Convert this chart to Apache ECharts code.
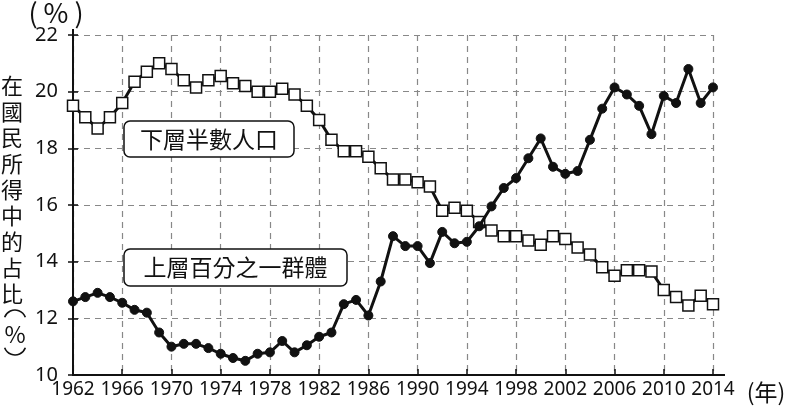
<!DOCTYPE html>
<html><head><meta charset="utf-8">
<script src="https://cdn.jsdelivr.net/npm/echarts@6/dist/echarts.min.js"></script>
<style>html,body{margin:0;padding:0;background:#fff}#c{width:790px;height:409px}</style>
</head><body><div id="c"></div>
<script>
const years = [];
for (let y = 1962; y <= 2014; y++) years.push(String(y));
const bottomHalf = [19.5,19.1,18.7,19.1,19.6,20.35,20.7,21.0,20.8,20.4,20.15,20.4,20.55,20.3,20.2,20.0,20.0,20.1,19.9,19.5,19.0,18.3,17.9,17.9,17.7,17.3,16.9,16.9,16.8,16.65,15.8,15.9,15.8,15.4,15.1,14.9,14.9,14.75,14.6,14.9,14.8,14.5,14.25,13.8,13.5,13.7,13.7,13.65,13.0,12.75,12.45,12.8,12.5];
const top1 = [12.6,12.75,12.9,12.75,12.55,12.3,12.2,11.5,11.0,11.1,11.1,10.95,10.75,10.6,10.5,10.75,10.8,11.2,10.8,11.05,11.35,11.5,12.5,12.65,12.1,13.3,14.9,14.55,14.55,13.95,15.05,14.65,14.7,15.25,15.95,16.6,16.95,17.65,18.35,17.35,17.1,17.2,18.3,19.4,20.15,19.9,19.5,18.5,19.85,19.6,20.8,19.6,20.15];
const yTitle = '在國民所得中的占比';
const font = '"Noto Sans CJK TC", "Noto Sans", sans-serif';
const numFont = '"Noto Sans", sans-serif';
const chart = echarts.init(document.getElementById('c'), null, {renderer:'canvas'});
const a = 70 * Math.PI / 180;
chart.setOption({
  animation:false,
  backgroundColor:'#fff',
  grid:{left:73,right:77,top:35,bottom:34},
  xAxis:{type:'category',data:years,boundaryGap:false,
    axisLine:{lineStyle:{color:'#111',width:2}},
    axisTick:{show:true,interval:3,inside:true,length:6,lineStyle:{color:'#111',width:1.5}},
    axisLabel:{interval:3,color:'#111',fontSize:19,fontFamily:numFont,margin:5,hideOverlap:false,showMinLabel:true,showMaxLabel:true},
    splitLine:{show:true,interval:3,lineStyle:{color:'#888',type:[6,5],width:1.2}}
  },
  yAxis:[{type:'value',min:10,max:22,interval:2,
    axisLine:{show:true,lineStyle:{color:'#111',width:2}},
    axisTick:{show:true,length:5,lineStyle:{color:'#111',width:1.5}},
    axisLabel:{color:'#111',fontSize:20,fontFamily:numFont,margin:15},
    splitLine:{show:true,lineStyle:{color:'#888',type:[6,5],width:1.2}}
  },{type:'value',min:10,max:22,interval:2,position:'left',
    axisLine:{show:false},
    axisTick:{show:true,inside:true,length:5,lineStyle:{color:'#111',width:1.5}},
    axisLabel:{show:false},splitLine:{show:false}
  }],
  series:[
    {type:'line',data:bottomHalf,symbol:'rect',symbolSize:11,showAllSymbol:true,
     lineStyle:{color:'#111',width:3},itemStyle:{color:'#fff',borderColor:'#111',borderWidth:1.5},z:3},
    {type:'line',data:top1,symbol:'circle',symbolSize:9,showAllSymbol:true,
     lineStyle:{color:'#111',width:3},itemStyle:{color:'#111',borderColor:'#111',borderWidth:1},z:4}
  ],
  graphic:[
    {type:'line',shape:{x1:73,y1:29,x2:73,y2:36},style:{stroke:'#111',lineWidth:2}},
    {type:'line',shape:{x1:712,y1:375,x2:725,y2:375},style:{stroke:'#111',lineWidth:2}},
    {type:'text',x:56,y:13,style:{text:'( % )',fontSize:27,fontFamily:font,fill:'#111',align:'center',verticalAlign:'middle'}},
    {type:'text',x:12,y:73,style:{text:yTitle.split('').join('\n'),fontSize:22,lineHeight:26,fontFamily:font,fill:'#111',align:'center',verticalAlign:'top'}},
    {type:'arc',shape:{cx:15,cy:321,r:11,startAngle:Math.PI+(Math.PI/2-a),endAngle:2*Math.PI-(Math.PI/2-a),clockwise:true},style:{stroke:'#111',lineWidth:1.6,fill:null}},
    {type:'text',x:15,y:334,style:{text:'%',fontSize:23,fontFamily:font,fill:'#111',align:'center',verticalAlign:'middle'}},
    {type:'arc',shape:{cx:15,cy:344,r:11,startAngle:(Math.PI/2-a),endAngle:Math.PI-(Math.PI/2-a),clockwise:true},style:{stroke:'#111',lineWidth:1.6,fill:null}},
    {type:'text',x:766,y:392,style:{text:'(年)',fontSize:23,fontFamily:font,fill:'#111',align:'center',verticalAlign:'middle'}},
    {type:'rect',shape:{x:124,y:121,width:170,height:36,r:6},style:{fill:'#fff',stroke:'#111',lineWidth:1.5},z:10},
    {type:'text',x:209,y:139,style:{text:'下層半數人口',fontSize:23,fontFamily:font,fill:'#111',align:'center',verticalAlign:'middle'},z:11},
    {type:'rect',shape:{x:124,y:249,width:223,height:37,r:6},style:{fill:'#fff',stroke:'#111',lineWidth:1.5},z:10},
    {type:'text',x:235.5,y:267.5,style:{text:'上層百分之一群體',fontSize:23,fontFamily:font,fill:'#111',align:'center',verticalAlign:'middle'},z:11}
  ]
});
</script></body></html>
